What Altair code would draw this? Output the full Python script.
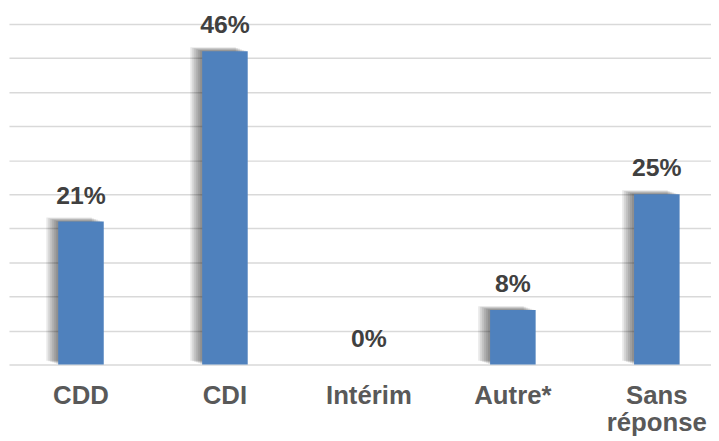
import altair as alt
import pandas as pd

categories = ["CDD", "CDI", "Intérim", "Autre*", "Sans réponse"]
values = [21, 46, 0, 8, 25]
value_labels = ["21%", "46%", "0%", "8%", "25%"]
y_ticks = [0, 5, 10, 15, 20, 25, 30, 35, 40, 45, 50]

df = pd.DataFrame({"cat": categories, "val": values, "lab": value_labels})

FONT = "Liberation Sans"
BAR_COLOR = "#4F81BD"

x_enc = alt.X(
    "cat:N",
    sort=categories,
    scale=alt.Scale(range=[0, 727], paddingInner=0, paddingOuter=0, align=0),
    axis=alt.Axis(
        title=None,
        labelAngle=0,
        domain=False,
        ticks=False,
        grid=False,
        labelFont=FONT,
        labelFontSize=26,
        labelFontWeight="bold",
        labelColor="#595959",
        labelPadding=39,
        labelBaseline="alphabetic",
        labelLineHeight=28,
        labelOverlap=False,
        labelBound=False,
        labelExpr="datum.value == 'Sans réponse' ? ['Sans', 'réponse'] : datum.value",
    ),
)

y_enc = alt.Y(
    "val:Q",
    scale=alt.Scale(domain=[0, 50], nice=False),
    axis=alt.Axis(
        title=None,
        labels=False,
        ticks=False,
        domain=False,
        values=y_ticks,
        gridColor="#D9D9D9",
        gridWidth=1.5,
    ),
)

base = alt.Chart(df).encode(x=x_enc, y=y_enc)

shadows = [
    base.mark_bar(size=46, color="black", opacity=0.09, xOffset=-k, yOffset=-k / 3)
    for k in (2, 4, 6, 8, 10, 12)
]

bars = base.mark_bar(size=46, color=BAR_COLOR)

texts = base.mark_text(
    dy=-18,
    baseline="alphabetic",
    font=FONT,
    fontSize=25,
    fontWeight="bold",
    color="#404040",
).encode(text="lab:N")

chart = (
    alt.layer(*shadows, bars, texts)
    .properties(
        width=709,
        height=344,
        autosize=alt.AutoSizeParams(type="none"),
        padding={"left": 1, "top": 14, "right": 0, "bottom": 75},
        background="white",
    )
    .configure_view(stroke=None)
)

chart.save("out.html", embed_options={"renderer": "svg", "actions": False})
